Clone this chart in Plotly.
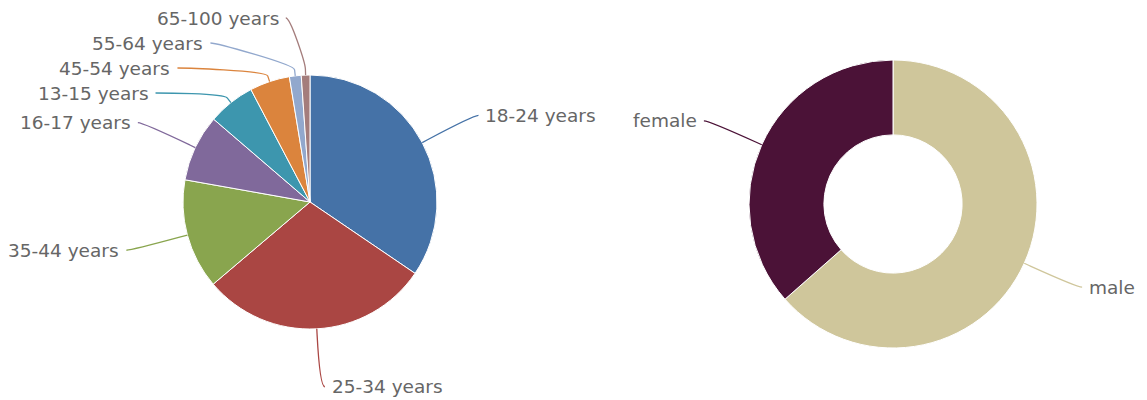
import math
import plotly.graph_objects as go

W, H = 1147, 400

# ---- data ----
age_labels = ["18-24 years", "25-34 years", "35-44 years", "16-17 years",
              "13-15 years", "45-54 years", "55-64 years", "65-100 years"]
age_values = [34.5, 29.3, 14.0, 8.5, 6.0, 5.1, 1.5, 1.1]
age_colors = ["#4572A7", "#AA4643", "#89A54E", "#80699B",
              "#3D96AE", "#DB843D", "#92A8CD", "#A47D7C"]

gender_labels = ["male", "female"]
gender_values = [63.5, 36.5]
gender_colors = ["#CFC69B", "#4B1237"]

# ---- layout constants (pixels) ----
LABEL_DIST = 58
SPACING = 25
YMIN, YMAX = 18, 388
FONT = dict(family="DejaVu Sans", size=18.5, color="#666666")

pies = [
    dict(labels=age_labels, values=age_values, colors=age_colors, cx=310, cy=202, r=127, hole=0),
    dict(labels=gender_labels, values=gender_values, colors=gender_colors, cx=893, cy=204, r=144, hole=0.48),
]


def px(x, y):
    return x / W, 1 - y / H


def layout_labels(values, cx, cy, r):
    total = float(sum(values))
    R = r + LABEL_DIST
    items = []
    acc = 0.0
    for i, v in enumerate(values):
        mid = (acc + v / 2) / total * 2 * math.pi
        acc += v
        s, c = math.sin(mid), math.cos(mid)
        items.append(dict(i=i, s=s, c=c, side=1 if s >= 0 else -1, ny=cy - R * c))
    for side in (-1, 1):
        group = sorted([it for it in items if it["side"] == side], key=lambda t: t["ny"])
        clusters = []

        def place(cl):
            n = len(cl)
            start = sum(it["ny"] - k * SPACING for k, it in enumerate(cl)) / n
            start = max(YMIN, min(start, YMAX - (n - 1) * SPACING))
            return start

        for it in group:
            clusters.append([it])
            while len(clusters) > 1:
                prev, cur = clusters[-2], clusters[-1]
                pend = place(prev) + (len(prev) - 1) * SPACING
                if place(cur) < pend + SPACING:
                    clusters[-2] = prev + cur
                    clusters.pop()
                else:
                    break
        for cl in clusters:
            st = place(cl)
            for k, it in enumerate(cl):
                y = st + k * SPACING
                dy = y - cy
                x = cx + side * math.sqrt(max(R * R - dy * dy, 0.0))
                it["x"], it["y"] = x, y
    return items


fig = go.Figure()
annotations = []
shapes = []

for p in pies:
    cx, cy, r = p["cx"], p["cy"], p["r"]
    x0, y1 = px(cx - r, cy - r)
    x1, y0 = px(cx + r, cy + r)
    fig.add_trace(go.Pie(
        labels=p["labels"], values=p["values"], hole=p["hole"],
        sort=False, direction="clockwise", rotation=0,
        marker=dict(colors=p["colors"], line=dict(color="#FFFFFF", width=1)),
        textinfo="none", hoverinfo="label+percent",
        domain=dict(x=[x0, x1], y=[y0, y1]), showlegend=False,
    ))
    for it in layout_labels(p["values"], cx, cy, r):
        side = it["side"]
        ax, ay = it["x"], it["y"]
        tx, ty = px(ax + 10 * side, ay)
        annotations.append(dict(
            x=tx, y=ty, xref="paper", yref="paper", showarrow=False,
            text=p["labels"][it["i"]], font=FONT,
            xanchor="left" if side > 0 else "right", yanchor="middle",
        ))
        P0 = (cx + r * it["s"], cy - r * it["c"])
        P1 = (cx + (r + 6) * it["s"], cy - (r + 6) * it["c"])
        C2 = (2 * P1[0] - P0[0], 2 * P1[1] - P0[1])
        pts = [(ax + 5 * side, ay), (ax, ay), C2, P1, P0]
        pp = [px(*q) for q in pts]
        path = "M {:.5f},{:.5f} C {:.5f},{:.5f} {:.5f},{:.5f} {:.5f},{:.5f} L {:.5f},{:.5f}".format(
            pp[0][0], pp[0][1], pp[1][0], pp[1][1], pp[2][0], pp[2][1], pp[3][0], pp[3][1], pp[4][0], pp[4][1])
        shapes.append(dict(type="path", xref="paper", yref="paper", path=path,
                           line=dict(color=p["colors"][it["i"]], width=1.3)))

fig.update_layout(
    width=W, height=H, autosize=False,
    margin=dict(l=0, r=0, t=0, b=0),
    paper_bgcolor="#FFFFFF", plot_bgcolor="#FFFFFF",
    annotations=annotations, shapes=shapes,
)

fig.write_html("out.html", config={"displayModeBar": False},
               post_script="document.body.style.margin='0';")
